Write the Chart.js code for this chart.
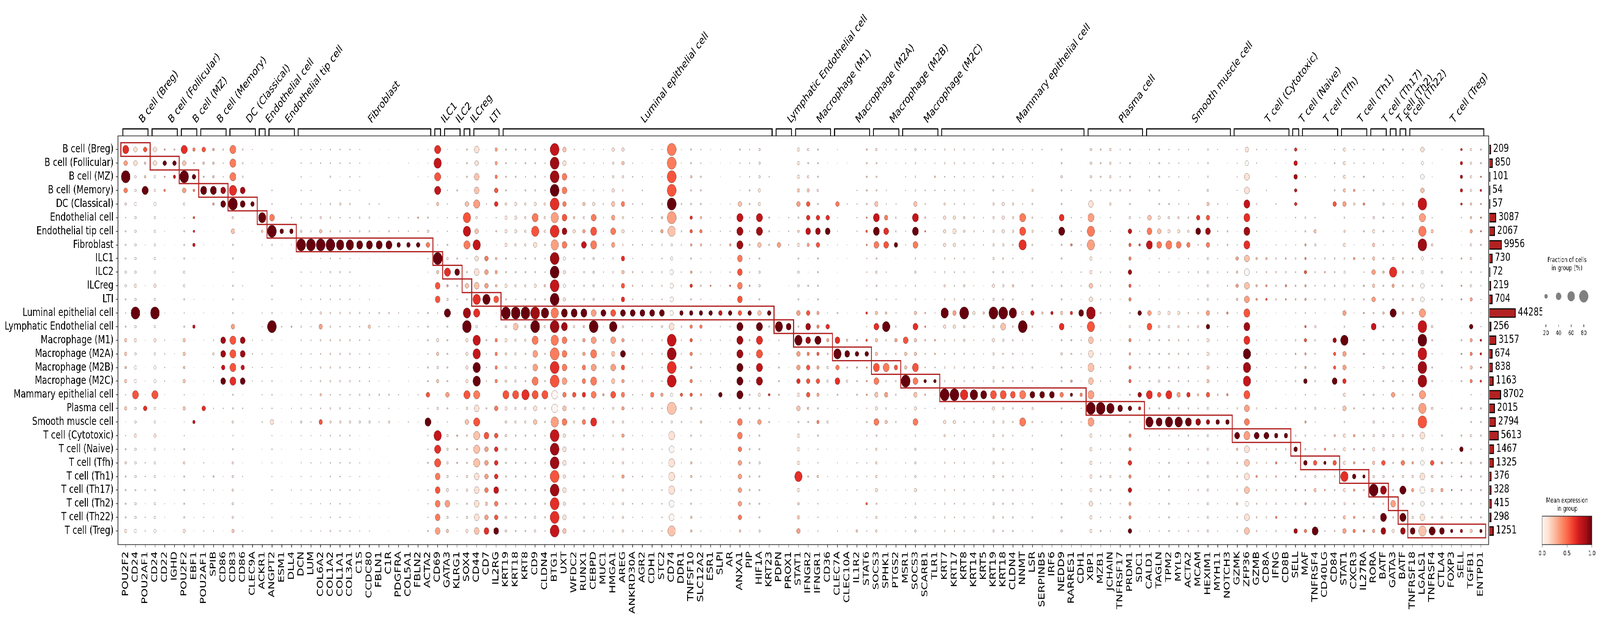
<!DOCTYPE html>
<html>
<head>
<meta charset="utf-8">
<title>Dot plot</title>
<script src="https://cdn.jsdelivr.net/npm/chart.js@4/dist/chart.umd.js"></script>
<style>
  html, body { margin: 0; padding: 0; background: #fff; overflow: hidden; }
  #figure { position: absolute; left: 0; top: 0; width: 5578px; height: 1585px; transform-origin: 0 0; }
  canvas { position: absolute; }
</style>
</head>
<body>
<div id="figure">
<canvas id="dotChart" width="5220" height="1585" style="left:0;top:0"></canvas>
<canvas id="totalsChart" width="186" height="1585" style="left:5190px;top:0"></canvas>
<canvas id="sizeLegend" width="218" height="260" style="left:5360px;top:640px"></canvas>
<canvas id="colorBar" width="238" height="325" style="left:5340px;top:1260px"></canvas>
</div>
<script>
const groupNames = ['B cell (Breg)', 'B cell (Follicular)', 'B cell (MZ)', 'B cell (Memory)', 'DC (Classical)', 'Endothelial cell', 'Endothelial tip cell', 'Fibroblast', 'ILC1', 'ILC2', 'ILCreg', 'LTI', 'Luminal epithelial cell', 'Lymphatic Endothelial cell', 'Macrophage (M1)', 'Macrophage (M2A)', 'Macrophage (M2B)', 'Macrophage (M2C)', 'Mammary epithelial cell', 'Plasma cell', 'Smooth muscle cell', 'T cell (Cytotoxic)', 'T cell (Naive)', 'T cell (Tfh)', 'T cell (Th1)', 'T cell (Th17)', 'T cell (Th2)', 'T cell (Th22)', 'T cell (Treg)'];
const groupCounts = [209, 850, 101, 54, 57, 3087, 2067, 9956, 730, 72, 219, 704, 44285, 256, 3157, 674, 838, 1163, 8702, 2015, 2794, 5613, 1467, 1325, 376, 328, 415, 298, 1251];
const groupGeneCounts = [3, 3, 2, 3, 3, 1, 3, 14, 1, 2, 1, 3, 28, 2, 4, 4, 3, 4, 15, 6, 9, 6, 1, 4, 3, 2, 1, 1, 8];
const geneNames = ['POU2F2', 'CD24', 'POU2AF1', 'CD24', 'CD22', 'IGHD', 'POU2F2', 'EBF1', 'POU2AF1', 'SPIB', 'CD86', 'CD83', 'CD86', 'CLEC9A', 'ACKR1', 'ANGPT2', 'ESM1', 'DLL4', 'DCN', 'LUM', 'COL6A2', 'COL1A2', 'COL1A1', 'COL3A1', 'C1S', 'CCDC80', 'FBLN1', 'C1R', 'PDGFRA', 'COL5A1', 'FBLN2', 'ACTA2', 'CD69', 'GATA3', 'KLRG1', 'SOX4', 'CD44', 'CD7', 'IL2RG', 'KRT19', 'KRT18', 'KRT8', 'CD9', 'CLDN4', 'BTG1', 'UXT', 'WFDC2', 'RUNX1', 'CEBPD', 'MUC1', 'HMGA1', 'AREG', 'ANKRD30A', 'AGR2', 'CDH1', 'STC2', 'CD74', 'DDR1', 'TNFSF10', 'SLC12A2', 'ESR1', 'SLPI', 'AR', 'ANXA1', 'PIP', 'HIF1A', 'KRT23', 'PDPN', 'PROX1', 'STAT1', 'IFNGR2', 'IFNGR1', 'CD36', 'CLEC7A', 'CLEC10A', 'IL1R2', 'STAT6', 'SOCS3', 'SPHK1', 'PTGS2', 'MSR1', 'SOCS3', 'SCARB1', 'TLR1', 'KRT7', 'KRT17', 'KRT8', 'KRT14', 'KRT5', 'KRT19', 'KRT18', 'CLDN4', 'NNMT', 'LSR', 'SERPINB5', 'IRF6', 'NEDD9', 'RARRES1', 'CDH1', 'XBP1', 'MZB1', 'JCHAIN', 'TNFRSF17', 'PRDM1', 'SDC1', 'CALD1', 'TAGLN', 'TPM2', 'MYL9', 'ACTA2', 'MCAM', 'HEXIM1', 'MYH11', 'NOTCH3', 'GZMK', 'ZFP36', 'GZMB', 'CD8A', 'IFNG', 'CD8B', 'SELL', 'MAF', 'TNFRSF4', 'CD40LG', 'CD84', 'STAT1', 'CXCR3', 'IL27RA', 'RORA', 'BATF', 'GATA3', 'BATF', 'TNFRSF18', 'LGALS1', 'TNFRSF4', 'CTLA4', 'FOXP3', 'SELL', 'TGFB1', 'ENTPD1'];

// percent of cells for each level (levels are base 36 digits)
const fractionScale = [0, 0.5, 1.5, 3, 6, 10, 16, 25, 38, 50, 65, 82];
// one string per gene, one level per group, spaced for reading
const fractionLevels = [
  '97b753 444554 346656 362345 44446', '775565 555565 b56566 955655 54556', '755901 121021 202112 271123 33233', '775565 555565 b56566 955655 54556',
  '474501 211010 203333 221121 20221', '476001 011001 101211 020021 22201', '97b753 444554 346656 362345 44446', '647505 561002 161011 116111 02021',
  '754901 121011 202112 271123 33333', '555951 111011 113533 131111 43223', '433880 010010 108878 131111 21111', '999ab5 744344 479999 445345 55556',
  '444881 100021 108878 131111 21112', '210070 100000 002322 000000 00000', '02000a 520000 222222 223011 00000', '220338 b42333 4b2223 337232 23223',
  '000000 711000 131111 111111 10000', '000003 721000 140101 122100 12111', '233334 5b1333 443333 335222 22222', '331333 4b1222 433333 333223 23223',
  '230025 6b2223 574344 537222 12212', '334044 4b3433 444444 345333 33334', '331353 4a3433 434444 345333 33333', '333243 3a2323 434434 335333 23223',
  '222204 491021 433233 425112 22112', '010034 491012 363333 435111 11112', '111031 291011 432222 423001 22210', '110003 491000 432222 435101 10111',
  '000003 370000 331000 311000 00000', '020003 370000 232122 213000 01001', '212004 371010 332121 322001 12000', '222024 573201 444344 739334 23334',
  '9a9962 23b688 326656 252a99 88888', '222333 345955 944444 743555 56856', '222403 224843 222212 221444 33332', '44427a a93474 ab6666 957444 55456',
  '878895 7a788a 95aaaa 989999 88888', '220032 22777a 224333 141877 77678', '666773 425658 236666 171777 78778', '444456 664464 b56555 965554 44455',
  '434266 653453 b85555 955444 44444', '443455 554454 b55444 a55444 44444', '444469 a74464 bb9889 977444 44455', '233355 543354 a54444 944333 34443',
  'bbbbba babbbb ababbb 99abbb bbbbb', '778878 886666 998888 778677 67677', '322225 642232 954333 735222 22112', '332265 684444 956677 757444 44444',
  '223468 995555 8b8989 849433 33333', '222243 342342 824444 532222 22232', '655677 874444 8a8787 855444 44444', '665475 647677 856876 765655 65555',
  '023032 232443 822222 331232 32322', '012332 231332 824444 342232 32323', '211003 331332 832322 733121 22212', '212045 643443 854433 634122 23333',
  'bbbbbb a56777 78bbbb 6b5989 9988a', '222042 431331 743322 624122 22221', '445446 654564 766656 652445 54455', '334445 652343 763333 535322 32223',
  '210012 231341 713333 211111 21111', '211013 331121 733232 721111 22111', '010022 351341 732111 223111 11111', '432279 998888 799999 948877 77775',
  '333443 343342 724333 443344 44422', '555669 974554 799999 647445 44445', '013004 441011 742221 534101 11211', '010002 271001 2a3344 412000 10011',
  '100003 330020 281122 202000 10000', '666674 564554 74a777 674666 a6567', '545677 862242 788677 754222 42222', '444547 874444 669667 646433 53333',
  '010007 820000 276455 225110 21110', '210072 221111 408a78 421112 22123', '010030 011000 105845 110111 22111', '000333 310000 104744 421113 33015',
  '444444 543332 535744 434333 32533', '544479 984544 686698 768455 56455', '220337 881322 5a4494 746231 22111', '310034 471033 346474 424111 11111',
  '222201 220020 10866b 121112 22222', '544479 984544 686698 768455 56455', '310334 421011 444336 421111 11111', '224301 111211 214436 120111 22222',
  '443356 664454 a64344 b46544 44444', '443336 763334 764344 b36333 23333', '443445 544454 b55444 a44444 44444', '333324 432223 633343 a34222 31222',
  '112003 330012 532222 923111 32211', '444455 555465 b56555 965555 54555', '434266 654454 b85444 955444 44444', '333355 543354 a44444 844333 34444',
  '232039 9a1300 6b3333 939111 23211', '332544 544344 743343 854343 33343', '310002 211021 521121 813101 11111', '110002 321231 632121 812111 12221',
  '445448 944344 684544 744444 34445', '010303 350222 634435 623111 22111', '110003 331332 833332 633111 22211', '555489 aa6677 ba8898 9b9666 66766',
  '444302 222333 423333 2b2333 44334', '555453 332333 313333 2a2333 54333', '333400 110112 012000 280221 31331', '444445 766766 456566 474667 67667',
  '110003 351030 723343 762111 01112', '333407 892111 784444 94a322 22223', '444446 783333 654445 749333 33333', '333045 692301 654444 94a334 44444',
  '333335 682322 654444 74a322 22223', '322034 573322 444444 749444 23334', '020007 831423 452222 538222 24223', '444567 875555 776666 757555 55555',
  '200032 322212 322222 427222 22222', '010023 441331 532232 527111 21221', '222201 126565 202122 140854 44544', '778899 998888 999aaa 988988 88788',
  '330042 315355 213333 040834 54444', '200301 115455 112222 020844 44442', '112031 124444 102222 030745 44454', '310001 124454 112222 121743 34332',
  '677663 224344 214444 140474 44447', '223004 455655 356557 335447 44546', '022003 653333 254344 252247 56449', '010000 014444 101001 020356 44433',
  '343471 114443 117668 130547 44444', '666674 564554 74a777 674666 a6567', '333551 125033 202222 040545 75456', '334353 424344 434433 432444 64345',
  '230405 666767 482133 445566 5b456', '433354 434544 544454 343557 59498', '203333 335a64 934444 743544 44846', '433354 334544 544444 343557 59498',
  '210032 324445 433233 441445 56458', '7677b9 ab6677 9bbbbb 9ab867 8878a', '022003 653333 254344 252247 56449', '210001 013544 101212 120445 46458',
  '010001 112012 101112 111134 34336', '566653 224344 224444 141474 44446', '555555 655456 376666 354545 44446', '444544 442333 235545 244434 44346'
];
// mean expression as digit / 9, same layout as fractionLevels
const expressionLevels = [
  '639411 000000 112222 121111 11111', '110000 000010 901000 500100 00000', '522911 111111 111111 161111 11111', '110000 000010 901000 500100 00000',
  '392411 111111 111111 111111 11111', '197111 111111 111111 111111 11111', '629301 000000 112222 121111 11111', '429415 671111 171111 117111 11111',
  '522911 111111 111111 161111 11111', '322931 111111 112111 111111 21111', '111891 111111 118879 111111 11111', '444691 211111 135556 111111 11112',
  '111891 111111 118879 111111 11111', '111191 111111 111111 111111 11111', '111119 211111 111111 111111 11111', '111114 911111 191111 111111 11111',
  '111111 911111 111111 111111 11111', '111111 911111 131111 111111 11111', '111111 191111 111111 111111 11111', '111111 191111 111111 111111 11111',
  '111111 291111 131111 215111 11111', '111111 191111 111111 111111 11111', '111111 191111 111111 111111 11111', '111111 191111 111111 111111 11111',
  '111111 191111 111111 111111 11111', '111111 191111 121111 111111 11111', '111111 191111 111111 111111 11111', '111111 191111 111111 111111 11111',
  '111111 191111 111111 111111 11111', '111111 191111 111111 111111 11111', '111113 191111 111111 111111 11111', '111111 141111 111111 519111 11111',
  '675721 119255 111212 111765 45443', '111111 111631 911111 311111 11312', '111111 111911 111111 111332 11111', '111125 741121 891111 512111 11111',
  '112230 271126 607799 415222 11112', '111111 114339 111111 111533 34236', '334561 112325 114444 141566 67459', '111111 111111 911111 511111 11111',
  '111111 111111 921111 511111 11111', '111111 111111 911111 611111 11111', '111114 511111 894334 512111 11111', '111111 111121 911111 511111 11111',
  '788963 638979 484465 003788 58667', '214445 840101 984443 424111 11112', '111112 111111 911111 511111 11111', '111121 371111 923344 614111 11111',
  '111114 541111 393434 416111 11111', '111111 111111 911111 311111 11111', '111123 431111 593232 511111 11111', '121141 116256 913953 431311 31111',
  '111111 111221 911111 111111 11111', '111111 111111 911111 111111 11111', '111111 111111 911111 411111 11111', '111112 311111 911111 311111 11111',
  '445593 200000 017867 020101 11002', '111111 111111 911111 511111 11111', '112116 531361 945434 521112 21122', '111112 421111 941111 312111 11111',
  '111111 111141 911111 111111 11111', '111111 111111 711111 911111 11111', '111111 131351 911111 111111 11111', '111127 884545 598899 914443 33342',
  '111111 111131 911111 111111 11111', '111117 821111 296578 113111 11111', '111111 111111 911111 611111 11111', '111111 131111 191111 111111 11111',
  '111111 111111 191111 111111 11111', '111230 110000 309336 120111 61123', '111256 731111 588455 521111 11111', '111116 851111 349535 314111 21111',
  '111116 911111 163111 111111 11111', '111141 111111 116946 111111 11111', '111111 111111 112911 111111 11111', '111111 111111 111931 111111 11112',
  '212214 541111 615933 311111 11511', '111127 941111 262254 214111 11111', '111114 651111 291141 312111 11111', '111111 191111 113151 111111 11111',
  '111111 111111 115229 111111 11111', '111127 941111 262254 214111 11111', '111113 511111 353119 311111 11111', '113111 111111 114319 111111 11111',
  '111111 111111 911111 911111 11111', '111111 111111 311111 911111 11111', '111111 111111 911111 611111 11111', '111111 111111 111111 911111 11111',
  '111111 111111 211111 911111 11111', '111111 111111 911111 511111 11111', '111111 111111 921111 511111 11111', '111111 111121 911111 511111 11111',
  '111114 561111 191111 414111 11111', '111111 111111 711111 911111 11111', '111111 111111 211111 911111 11111', '111111 111111 711111 911111 11111',
  '111116 911111 261111 411111 11111', '111111 141111 612113 911111 11111', '111111 111111 911111 411111 11111', '111113 431121 852122 393111 11111',
  '111111 111111 111111 191111 11111', '111111 111111 111111 191111 11111', '111111 111111 111111 191111 11111', '111111 754854 114345 191446 47349',
  '111111 151111 911111 871111 11111', '111112 471111 351111 619111 11111', '111111 241111 111111 519111 11111', '111111 141111 111111 619111 11111',
  '111111 141111 111111 319111 11111', '111111 141111 111111 619111 11111', '111116 911111 111111 218111 11111', '111125 841111 391122 518111 11111',
  '111111 111111 111111 219111 11111', '111111 221111 411111 419111 11111', '111111 113232 111111 111922 21211', '101176 862023 586987 534312 12012',
  '111111 112123 111111 111911 32222', '111111 112235 111111 111911 11111', '111111 111111 111111 111914 31141', '111111 113144 111111 111911 11111',
  '678761 111122 111311 111193 33118', '111111 234533 155339 113129 13314', '111111 211111 111111 111115 12119', '111111 111311 111111 111149 13111',
  '111151 111111 118559 111215 11111', '111230 110000 309336 120111 61123', '111311 113111 111111 111323 93134', '112141 111131 311311 111131 91114',
  '111111 122323 171111 111112 19113', '111111 111211 211111 111115 18198', '111111 111631 911111 311111 11311', '111111 111211 211111 111114 19198',
  '111111 111112 111111 111113 13119', '100273 480000 379788 335100 10012', '111111 211111 111111 111115 12119', '111111 111111 111111 111113 13119',
  '111111 111111 111111 111111 14119', '678761 112133 111311 111193 33118', '111122 311113 193424 111111 11112', '225735 521111 117766 121112 12129'
];
const legendFractions = [20, 40, 60, 80];
const colorBarTicks = [0, 0.5, 1];
const redsStops = ['#fff5f0', '#fee0d2', '#fcbba1', '#fc9272', '#fb6a4a', '#ef3b2c', '#cb181d', '#a50f15', '#67000d'];

const fontFamily = "'DejaVu Sans'";
const lineColor = '#222222';
const boxColor = '#b22222';

// the figure is laid out at 5578x1585, the window may be narrower than it asked for
document.getElementById('figure').style.transform =
  'scale(' + (window.innerWidth / 5578) + ',' + (window.innerHeight / 1585) + ')';

Chart.defaults.font.family = fontFamily;
Chart.defaults.color = '#000000';
Chart.defaults.animation = false;

function hexToRgb(hex) {
  return [1, 3, 5].map(i => parseInt(hex.substr(i, 2), 16));
}

// same lookup as a matplotlib Reds colormap
function redsColor(v) {
  const pos = Math.min(Math.max(v, 0), 1) * (redsStops.length - 1);
  const i = Math.min(Math.floor(pos), redsStops.length - 2);
  const a = hexToRgb(redsStops[i]);
  const b = hexToRgb(redsStops[i + 1]);
  const c = a.map((n, k) => Math.round(n + (b[k] - n) * (pos - i)));
  return 'rgb(' + c.join(',') + ')';
}

// dot area grows with fraction^1.5, 80% is about 31px across
function fractionRadius(fraction) {
  return 15.5 * Math.pow(fraction / 80, 0.75);
}

function decode(text) {
  return text.replace(/ /g, '');
}

const dots = [];
geneNames.forEach((gene, col) => {
  const fractions = decode(fractionLevels[col]);
  const colors = decode(expressionLevels[col]);
  groupNames.forEach((group, row) => {
    const fraction = fractionScale[parseInt(fractions.charAt(row), 36)] || 0;
    if (fraction > 0) {
      dots.push({ x: col, y: row, r: fractionRadius(fraction), v: (parseInt(colors.charAt(row), 10) || 0) / 9 });
    }
  });
});

// gene index ranges of each group
const groupRanges = [];
let nextGene = 0;
groupGeneCounts.forEach(n => {
  groupRanges.push([nextGene, nextGene + n - 1]);
  nextGene += n;
});

const framePlugin = {
  id: 'frame',
  afterDatasetsDraw(chart) {
    const a = chart.chartArea;
    const ctx = chart.ctx;
    ctx.save();
    ctx.strokeStyle = lineColor;
    ctx.lineWidth = 1.7;
    ctx.strokeRect(a.left, a.top, a.right - a.left, a.bottom - a.top);
    ctx.restore();
  }
};

const groupMarksPlugin = {
  id: 'groupMarks',
  afterDatasetsDraw(chart) {
    const x = chart.scales.x;
    const y = chart.scales.y;
    const top = chart.chartArea.top;
    const ctx = chart.ctx;
    ctx.save();
    groupRanges.forEach((range, i) => {
      // red box round the group's own genes
      ctx.strokeStyle = boxColor;
      ctx.lineWidth = 3.2;
      const bx = x.getPixelForValue(range[0] - 0.5);
      const by = y.getPixelForValue(i - 0.5);
      ctx.strokeRect(bx, by, x.getPixelForValue(range[1] + 0.5) - bx, y.getPixelForValue(i + 0.5) - by);

      // bracket above the plot
      const left = x.getPixelForValue(range[0] - 0.3);
      const right = x.getPixelForValue(range[1] + 0.3);
      ctx.strokeStyle = '#000000';
      ctx.lineWidth = 3.1;
      ctx.beginPath();
      ctx.moveTo(left, top);
      ctx.lineTo(left, top - 18);
      ctx.lineTo(right, top - 18);
      ctx.lineTo(right, top);
      ctx.stroke();

      ctx.save();
      ctx.translate((left + right) / 2 + 24, top - 31);
      ctx.rotate(-Math.PI / 4);
      ctx.fillStyle = '#000000';
      ctx.font = '29px ' + fontFamily;
      ctx.textAlign = 'left';
      ctx.textBaseline = 'alphabetic';
      ctx.fillText(groupNames[i], 0, 0);
      ctx.restore();
    });
    ctx.restore();
  }
};

const dotChart = new Chart(document.getElementById('dotChart'), {
  type: 'bubble',
  data: {
    datasets: [{
      data: dots,
      backgroundColor: ctx => ctx.raw ? redsColor(ctx.raw.v) : '#ffffff',
      borderColor: 'rgba(50,50,50,0.8)',
      borderWidth: 0.7
    }]
  },
  options: {
    responsive: false,
    devicePixelRatio: 1,
    events: [],
    layout: { padding: { top: 348, right: 30 } },
    plugins: { legend: { display: false }, tooltip: { enabled: false } },
    scales: {
      x: {
        type: 'linear',
        min: -0.8,
        max: 139.8,
        afterFit: s => { s.height = 190.5; },
        afterBuildTicks: s => { s.ticks = geneNames.map((g, i) => ({ value: i })); },
        border: { display: false },
        grid: { drawOnChartArea: false, tickLength: 7.3, tickWidth: 1.7, tickColor: lineColor },
        ticks: {
          autoSkip: false,
          minRotation: 90,
          maxRotation: 90,
          padding: 10,
          font: { size: 29 },
          callback: v => geneNames[v]
        }
      },
      y: {
        type: 'linear',
        reverse: true,
        min: -1,
        max: 29,
        afterFit: s => { s.width = 411; },
        afterBuildTicks: s => { s.ticks = groupNames.map((g, i) => ({ value: i })); },
        border: { display: false },
        grid: { drawOnChartArea: false, tickLength: 7.3, tickWidth: 1.7, tickColor: lineColor },
        ticks: {
          autoSkip: false,
          padding: 8,
          font: { size: 29 },
          callback: v => groupNames[v]
        }
      }
    }
  },
  plugins: [framePlugin, groupMarksPlugin]
});

// the totals axis runs on a square root scale
class SqrtScale extends Chart.LinearScale {
  getPixelForValue(value) {
    return this.getPixelForDecimal(Math.sqrt(value / this.max));
  }
}
SqrtScale.id = 'sqrt';
SqrtScale.defaults = {};
Chart.register(SqrtScale);

const countLabelsPlugin = {
  id: 'countLabels',
  afterDatasetsDraw(chart) {
    const ctx = chart.ctx;
    const bars = chart.getDatasetMeta(0).data;
    ctx.save();
    ctx.fillStyle = '#000000';
    ctx.font = '28.5px ' + fontFamily;
    ctx.textAlign = 'left';
    ctx.textBaseline = 'middle';
    bars.forEach((bar, i) => {
      ctx.fillText(String(groupCounts[i]), bar.x + 8, bar.y - 1);
    });
    ctx.restore();
  }
};

const totalsChart = new Chart(document.getElementById('totalsChart'), {
  type: 'bar',
  data: {
    datasets: [{
      data: groupCounts.map((n, i) => ({ x: n, y: i })),
      backgroundColor: boxColor,
      borderColor: '#000000',
      borderWidth: 3,
      borderSkipped: 'start',
      barThickness: 24
    }]
  },
  options: {
    indexAxis: 'y',
    responsive: false,
    devicePixelRatio: 1,
    events: [],
    layout: { padding: { top: 348, bottom: 190.5, left: 1.5 } },
    plugins: { legend: { display: false }, tooltip: { enabled: false } },
    scales: {
      x: { type: 'sqrt', min: 0, max: 175800, display: false },
      y: { type: 'linear', reverse: true, min: -1, max: 29, offset: false, display: false }
    }
  },
  plugins: [countLabelsPlugin]
});

function titleLines(lines, centerX, ys) {
  return {
    id: 'titleLines',
    afterDraw(chart) {
      const ctx = chart.ctx;
      ctx.save();
      ctx.fillStyle = '#000000';
      ctx.font = '17.4px ' + fontFamily;
      ctx.textAlign = 'center';
      ctx.textBaseline = 'middle';
      lines.forEach((line, i) => ctx.fillText(line, centerX, ys[i]));
      ctx.restore();
    }
  };
}

const sizeLegend = new Chart(document.getElementById('sizeLegend'), {
  type: 'bubble',
  data: {
    datasets: [{
      data: legendFractions.map(f => ({ x: f, y: 0, r: fractionRadius(f) })),
      backgroundColor: '#808080',
      borderColor: '#707070',
      borderWidth: 0.7,
      clip: false
    }]
  },
  options: {
    responsive: false,
    devicePixelRatio: 1,
    events: [],
    layout: { padding: { top: 46.4, left: 29.7, right: 56.6 } },
    plugins: { legend: { display: false }, tooltip: { enabled: false } },
    scales: {
      x: {
        type: 'linear',
        min: 20,
        max: 80,
        afterFit: s => { s.height = 69; },
        afterBuildTicks: s => { s.ticks = legendFractions.map(f => ({ value: f })); },
        border: { display: false },
        grid: { drawOnChartArea: false, tickLength: 6.5, tickWidth: 1.7, tickColor: lineColor },
        ticks: { padding: 7, font: { size: 15.5 } }
      },
      y: { type: 'linear', min: -1, max: 1, display: false }
    }
  },
  plugins: [titleLines(['Fraction of cells', 'in group (%)'], 103, [26.7, 47.7])]
});

const colorBar = new Chart(document.getElementById('colorBar'), {
  type: 'bar',
  data: {
    labels: [''],
    datasets: [{
      data: [[0, 1]],
      barPercentage: 1,
      categoryPercentage: 1,
      backgroundColor: ctx => {
        const a = ctx.chart.chartArea;
        if (!a) {
          return '#ffffff';
        }
        const g = ctx.chart.ctx.createLinearGradient(a.left, 0, a.right, 0);
        redsStops.forEach((c, i) => g.addColorStop(i / (redsStops.length - 1), c));
        return g;
      }
    }]
  },
  options: {
    indexAxis: 'y',
    responsive: false,
    devicePixelRatio: 1,
    events: [],
    layout: { padding: { top: 61.6, left: 36.4, right: 28.2 } },
    plugins: { legend: { display: false }, tooltip: { enabled: false } },
    scales: {
      x: {
        type: 'linear',
        min: 0,
        max: 1,
        afterFit: s => { s.height = 190.5; },
        afterBuildTicks: s => { s.ticks = colorBarTicks.map(v => ({ value: v })); },
        border: { display: false },
        grid: { drawOnChartArea: false, tickLength: 7.3, tickWidth: 1.7, tickColor: lineColor },
        ticks: { padding: 7, font: { size: 15.5 }, callback: v => v.toFixed(1) }
      },
      y: { display: false }
    }
  },
  plugins: [framePlugin, titleLines(['Mean expression', 'in group'], 123.5, [22, 43.6])]
});
</script>
</body>
</html>
